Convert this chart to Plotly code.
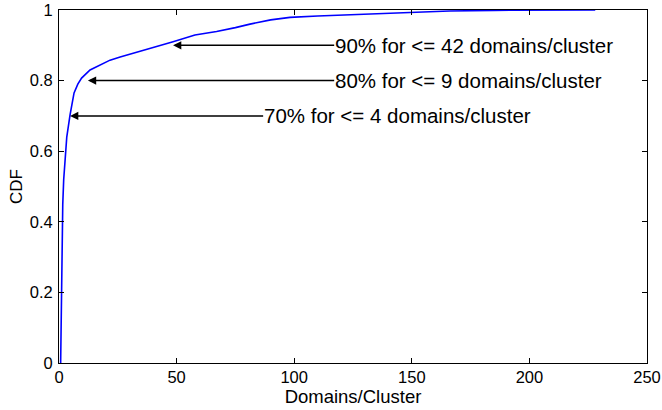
import plotly.graph_objects as go

# CDF curve
domains_per_cluster = [0.7, 1.0, 1.2, 1.6, 2.0, 2.7, 3.3, 4.7, 6.4, 8.0, 9.6, 13.2, 17.4, 21.7,
                       26, 31.5, 38.7, 48.5, 57.8, 67, 75, 81.2, 90, 98.2, 110, 123.7, 149,
                       166, 185, 200, 215, 228]
cdf = [0, 0.15, 0.3, 0.45, 0.52, 0.6, 0.64, 0.703, 0.765, 0.79, 0.807, 0.83, 0.844, 0.858,
       0.867, 0.877, 0.891, 0.910, 0.929, 0.939, 0.95, 0.960, 0.972, 0.979, 0.983, 0.986,
       0.993, 0.997, 0.999, 1.0, 1.0, 1.0]

x_ticks = [0, 50, 100, 150, 200, 250]
y_ticks = [0, 0.2, 0.4, 0.6, 0.8, 1]
y_tick_labels = ["0", "0.2", "0.4", "0.6", "0.8", "1"]

# annotations: text, arrow tip (x, y), text start x
ann_texts = ["90% for <= 42 domains/cluster", "80% for <= 9 domains/cluster",
             "70% for <= 4 domains/cluster"]
ann_tip_x = [48.5, 12.3, 4.7]
ann_tip_y = [0.9, 0.8, 0.7]
ann_text_x = [117.0, 117.0, 86.8]

FONT = "Liberation Sans, Arial, sans-serif"

fig = go.Figure()
fig.add_trace(go.Scatter(x=domains_per_cluster, y=cdf, mode="lines",
                         line=dict(color="#0000FF", width=1.6), showlegend=False,
                         hoverinfo="skip"))

for t, tx, ty, sx in zip(ann_texts, ann_tip_x, ann_tip_y, ann_text_x):
    fig.add_annotation(x=tx, y=ty, ax=sx, ay=ty, axref="x", ayref="y", xref="x", yref="y",
                       text=t, showarrow=True, arrowhead=2, arrowsize=1.1, arrowwidth=1.5,
                       arrowcolor="black", xanchor="left", yanchor="middle",
                       font=dict(family=FONT, size=20.5, color="black"),
                       borderpad=0, standoff=0)

axis_common = dict(showline=True, linecolor="black", linewidth=1, mirror="ticks",
                   ticks="inside", ticklen=5, tickcolor="black", showgrid=False, zeroline=False,
                   automargin=False,
                   tickfont=dict(family=FONT, size=16.5, color="black"))

fig.update_xaxes(range=[0, 250], tickvals=x_ticks, ticktext=[str(v) for v in x_ticks],
                 ticklabelstandoff=-1,
                 title=dict(text="Domains/Cluster", standoff=0,
                            font=dict(family=FONT, size=18.5, color="black")),
                 **axis_common)
fig.update_yaxes(range=[0, 1], tickvals=y_ticks, ticktext=y_tick_labels,
                 ticklabelstandoff=2,
                 title=dict(text="CDF", standoff=2,
                            font=dict(family=FONT, size=17, color="black")),
                 **axis_common)

fig.update_layout(width=662, height=410, margin=dict(l=59, r=15, t=10, b=47),
                  plot_bgcolor="white", paper_bgcolor="white")

fig.write_html("out.html", config={"displayModeBar": False},
               post_script="document.body.style.margin='0px';document.body.style.overflow='hidden';")
